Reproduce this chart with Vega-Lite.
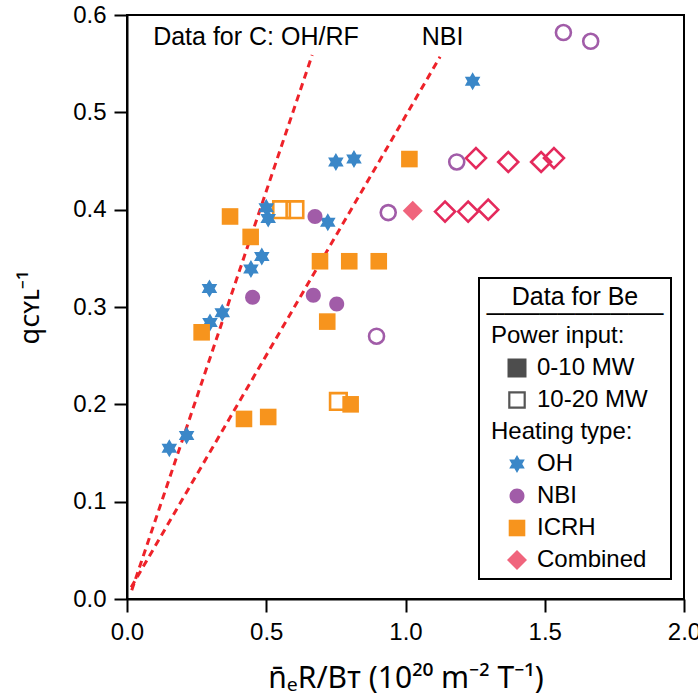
{
  "$schema": "https://vega.github.io/schema/vega-lite/v6.json",
  "width": 557,
  "height": 584,
  "autosize": {"type": "none"},
  "padding": {"left": 127, "top": 15, "right": 14, "bottom": 99},
  "background": "white",
  "config": {
    "font": "Liberation Sans",
    "view": {"stroke": "black", "strokeWidth": 2},
    "axis": {
      "grid": false, "domainColor": "black", "domainWidth": 2,
      "tickColor": "black", "tickWidth": 2, "tickSize": 13,
      "labelFontSize": 24, "labelColor": "black", "labelFont": "Liberation Sans",
      "titleFont": "Noto Sans", "titleFontSize": 27, "titleFontWeight": "normal", "titleColor": "black",
      "labelFlush": false, "labelOverlap": false
    }
  },
  "datasets": {
    "guides": [
      {"series": "C OH/RF", "ne": 0.017, "q": 0.009},
      {"series": "C OH/RF", "ne": 0.665, "q": 0.559},
      {"series": "C NBI", "ne": 0.015, "q": 0.012},
      {"series": "C NBI", "ne": 1.124, "q": 0.557}
    ],
    "notes": [
      {"label": "Data for C: OH/RF", "ne": 0.463, "q": 0.577},
      {"label": "NBI", "ne": 1.133, "q": 0.577}
    ],
    "points": [
      {"type": "NBI", "power": "10-20 MW", "ne": 0.896, "q": 0.270},
      {"type": "NBI", "power": "10-20 MW", "ne": 0.938, "q": 0.397},
      {"type": "NBI", "power": "10-20 MW", "ne": 1.184, "q": 0.449},
      {"type": "NBI", "power": "10-20 MW", "ne": 1.567, "q": 0.582},
      {"type": "NBI", "power": "10-20 MW", "ne": 1.665, "q": 0.573},
      {"type": "ICRH", "power": "10-20 MW", "ne": 0.555, "q": 0.400},
      {"type": "ICRH", "power": "10-20 MW", "ne": 0.603, "q": 0.400},
      {"type": "ICRH", "power": "10-20 MW", "ne": 0.759, "q": 0.203},
      {"type": "Combined", "power": "10-20 MW", "ne": 1.142, "q": 0.398},
      {"type": "Combined", "power": "10-20 MW", "ne": 1.225, "q": 0.398},
      {"type": "Combined", "power": "10-20 MW", "ne": 1.297, "q": 0.400},
      {"type": "Combined", "power": "10-20 MW", "ne": 1.253, "q": 0.453},
      {"type": "Combined", "power": "10-20 MW", "ne": 1.369, "q": 0.449},
      {"type": "Combined", "power": "10-20 MW", "ne": 1.487, "q": 0.449},
      {"type": "Combined", "power": "10-20 MW", "ne": 1.533, "q": 0.453},
      {"type": "OH", "power": "0-10 MW", "ne": 0.152, "q": 0.155},
      {"type": "OH", "power": "0-10 MW", "ne": 0.214, "q": 0.168},
      {"type": "OH", "power": "0-10 MW", "ne": 0.296, "q": 0.319},
      {"type": "OH", "power": "0-10 MW", "ne": 0.298, "q": 0.284},
      {"type": "OH", "power": "0-10 MW", "ne": 0.342, "q": 0.294},
      {"type": "OH", "power": "0-10 MW", "ne": 0.445, "q": 0.339},
      {"type": "OH", "power": "0-10 MW", "ne": 0.484, "q": 0.352},
      {"type": "OH", "power": "0-10 MW", "ne": 0.500, "q": 0.402},
      {"type": "OH", "power": "0-10 MW", "ne": 0.507, "q": 0.391},
      {"type": "OH", "power": "0-10 MW", "ne": 0.721, "q": 0.387},
      {"type": "OH", "power": "0-10 MW", "ne": 0.750, "q": 0.449},
      {"type": "OH", "power": "0-10 MW", "ne": 0.815, "q": 0.452},
      {"type": "OH", "power": "0-10 MW", "ne": 1.241, "q": 0.532},
      {"type": "NBI", "power": "0-10 MW", "ne": 0.451, "q": 0.310},
      {"type": "NBI", "power": "0-10 MW", "ne": 0.669, "q": 0.312},
      {"type": "NBI", "power": "0-10 MW", "ne": 0.753, "q": 0.303},
      {"type": "NBI", "power": "0-10 MW", "ne": 0.675, "q": 0.393},
      {"type": "ICRH", "power": "0-10 MW", "ne": 0.444, "q": 0.372},
      {"type": "ICRH", "power": "0-10 MW", "ne": 0.693, "q": 0.347},
      {"type": "ICRH", "power": "0-10 MW", "ne": 0.798, "q": 0.347},
      {"type": "ICRH", "power": "0-10 MW", "ne": 0.904, "q": 0.347},
      {"type": "ICRH", "power": "0-10 MW", "ne": 0.719, "q": 0.285},
      {"type": "ICRH", "power": "0-10 MW", "ne": 0.268, "q": 0.274},
      {"type": "ICRH", "power": "0-10 MW", "ne": 0.420, "q": 0.185},
      {"type": "ICRH", "power": "0-10 MW", "ne": 0.507, "q": 0.187},
      {"type": "ICRH", "power": "0-10 MW", "ne": 0.803, "q": 0.200},
      {"type": "ICRH", "power": "0-10 MW", "ne": 0.370, "q": 0.393},
      {"type": "ICRH", "power": "0-10 MW", "ne": 1.014, "q": 0.452},
      {"type": "Combined", "power": "0-10 MW", "ne": 1.026, "q": 0.399}
    ]
  },
  "layer": [
    {
      "data": {"name": "guides"},
      "mark": {"type": "line", "color": "#ee2229", "strokeWidth": 3, "strokeDash": [7, 5]},
      "encoding": {
        "x": {
          "field": "ne", "type": "quantitative",
          "scale": {"domain": [0, 2], "nice": false},
          "axis": {"values": [0, 0.5, 1, 1.5, 2], "format": ".1f", "labelPadding": 8, "titlePadding": 19, "titleFontSize": 30,
                   "title": "n\u0304\u2091R/B\u1d1b (10\u00b2\u2070 m\u207b\u00b2 T\u207b\u00b9)"}
        },
        "y": {
          "field": "q", "type": "quantitative",
          "scale": {"domain": [0, 0.6], "nice": false},
          "axis": {"values": [0, 0.1, 0.2, 0.3, 0.4, 0.5, 0.6], "format": ".1f", "labelPadding": 8, "titlePadding": 28,
                   "title": "q\u1d04\u028f\u029f\u207b\u00b9"}
        },
        "detail": {"field": "series", "type": "nominal"}
      }
    },
    {
      "data": {"name": "points"},
      "mark": {"type": "point", "filled": true, "size": 400, "strokeWidth": 2.6, "opacity": 1},
      "encoding": {
        "x": {"field": "ne", "type": "quantitative"},
        "y": {"field": "q", "type": "quantitative"},
        "shape": {
          "field": "type", "type": "nominal",
          "scale": {
            "domain": ["Power input:", "0-10 MW", "10-20 MW", "Heating type:", "OH", "NBI", "ICRH", "Combined"],
            "range": [
              "M0,0",
              "M-0.95,-0.95L0.95,-0.95L0.95,0.95L-0.95,0.95Z",
              "M-0.88,-0.88L0.88,-0.88L0.88,0.88L-0.88,0.88ZM-0.66,-0.66L-0.66,0.66L0.66,0.66L0.66,-0.66Z",
              "M0,0",
              "M0,-0.9L0.26,-0.45L0.779,-0.45L0.52,0L0.779,0.45L0.26,0.45L0,0.9L-0.26,0.45L-0.779,0.45L-0.52,0L-0.779,-0.45L-0.26,-0.45Z",
              "M-0.75,0A0.75,0.75,0,1,0,0.75,0A0.75,0.75,0,1,0,-0.75,0Z",
              "M-0.83,-0.83L0.83,-0.83L0.83,0.83L-0.83,0.83Z",
              "M-1,0L0,-1L1,0L0,1Z"
            ]
          },
          "legend": {
            "title": ["Data for Be", "\u2500\u2500\u2500\u2500\u2500\u2500\u2500\u2500\u2500\u2500"],
            "orient": "none", "legendX": 352, "legendY": 263,
            "padding": 7, "strokeColor": "black", "fillColor": "white", "cornerRadius": 0,
            "titleFont": "Liberation Sans", "titleFontSize": 25, "titleFontWeight": "normal", "titleColor": "black",
            "titleAnchor": "middle", "titleAlign": "center", "titleLineHeight": 17, "titlePadding": -3, "titleLimit": 500,
            "labelFont": "Liberation Sans", "labelFontSize": 24, "labelColor": "black", "labelLimit": 300,
            "labelOffset": 8, "symbolOffset": 3, "symbolSize": 400, "symbolStrokeWidth": 0, "rowPadding": 8,
            "encoding": {
              "legend": {"strokeWidth": {"value": 2}},
              "labels": {
                "dx": {"condition": {"test": "datum.label === 'Power input:' || datum.label === 'Heating type:'", "value": -46}, "value": 0}
              }
            }
          }
        },
        "fill": {
          "field": "type", "type": "nominal",
          "scale": {
            "domain": ["Power input:", "0-10 MW", "10-20 MW", "Heating type:", "OH", "NBI", "ICRH", "Combined"],
            "range": ["transparent", "#4d4d4d", "#555555", "transparent", "#3a87c8", "#a15ca8", "#f7941d", "#f0647c"]
          }
        },
        "stroke": {
          "field": "type", "type": "nominal",
          "scale": {
            "domain": ["Power input:", "0-10 MW", "10-20 MW", "Heating type:", "OH", "NBI", "ICRH", "Combined"],
            "range": ["transparent", "#4d4d4d", "#555555", "transparent", "#3a87c8", "#a15ca8", "#f7941d", "#e42a5c"]
          }
        },
        "fillOpacity": {"condition": {"test": "datum.power === '10-20 MW'", "value": 0}, "value": 1},
        "strokeOpacity": {"condition": {"test": "datum.power === '10-20 MW'", "value": 1}, "value": 0}
      }
    },
    {
      "data": {"name": "notes"},
      "mark": {"type": "text", "fontSize": 25, "font": "Liberation Sans", "color": "black", "align": "center", "baseline": "middle"},
      "encoding": {
        "x": {"field": "ne", "type": "quantitative"},
        "y": {"field": "q", "type": "quantitative"},
        "text": {"field": "label", "type": "nominal"}
      }
    }
  ]
}
